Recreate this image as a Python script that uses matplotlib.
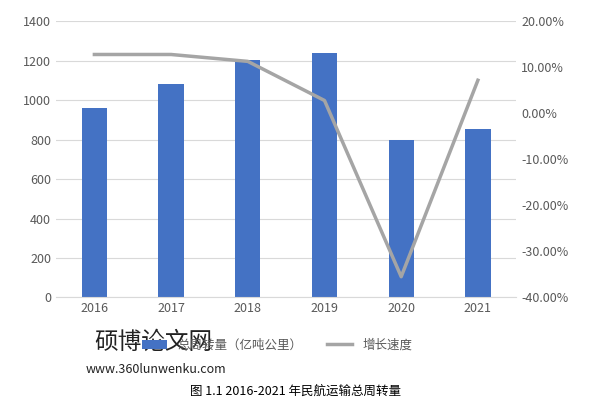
import matplotlib
matplotlib.use("Agg")
import matplotlib.pyplot as plt
from matplotlib.ticker import FuncFormatter

plt.rcParams['font.family'] = ['Noto Sans CJK SC', 'DejaVu Sans']

years = ['2016', '2017', '2018', '2019', '2020', '2021']
volume = [960, 1080, 1205, 1240, 798, 855]
growth = [12.8, 12.8, 11.3, 2.8, -35.5, 7.2]

fig = plt.figure(figsize=(5.90, 4.03), dpi=100)
ax = fig.add_axes([0.095, 0.262, 0.78, 0.685])
x = range(len(years))
b = ax.bar(x, volume, width=0.33, color='#4472C4', label='总周转量（亿吨公里）')
ax.set_ylim(0, 1400)
ax.set_yticks(range(0, 1401, 200))
ax.set_xticks(list(x))
ax.set_xticklabels(years)
ax.set_xlim(-0.5, 5.5)
ax.grid(axis='y', color='#D9D9D9', linewidth=0.8)
ax.set_axisbelow(True)
for s in ['top', 'right', 'left']:
    ax.spines[s].set_visible(False)
ax.spines['bottom'].set_color('#D9D9D9')
ax.tick_params(length=0, colors='#595959', labelsize=9)

ax2 = ax.twinx()
l, = ax2.plot(x, growth, color='#A5A5A5', linewidth=2.5, label='增长速度')
ax2.set_ylim(-40, 20)
ax2.set_yticks(range(-40, 21, 10))
ax2.yaxis.set_major_formatter(FuncFormatter(lambda v, p: f'{v:.2f}%'))
for s in ax2.spines.values():
    s.set_visible(False)
ax2.tick_params(length=0, colors='#595959', labelsize=9)

fig.legend([b, l], ['总周转量（亿吨公里）', '增长速度'], loc='center', bbox_to_anchor=(0.47, 0.143),
           ncol=2, frameon=False, fontsize=9, labelcolor='#595959')
fig.text(0.16, 0.135, '硕博论文网', fontsize=17, color='#222222')
fig.text(0.145, 0.075, 'www.360lunwenku.com', fontsize=9, color='#222222')
fig.text(0.5, 0.02, '图 1.1 2016-2021 年民航运输总周转量', ha='center', fontsize=9, color='black')
fig.savefig('out.png', dpi=100)
